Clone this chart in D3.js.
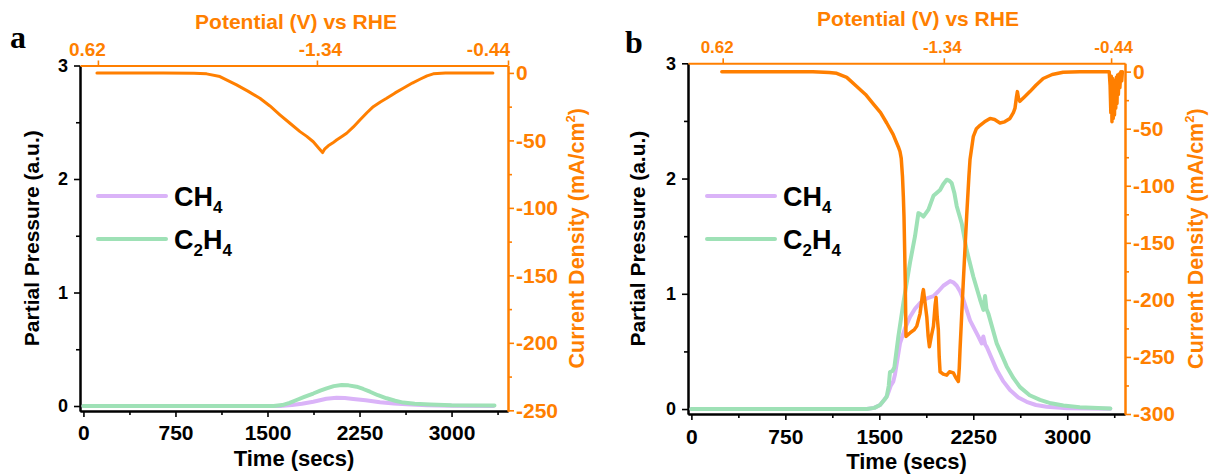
<!DOCTYPE html>
<html><head><meta charset="utf-8">
<script src="https://cdn.jsdelivr.net/npm/d3@7"></script>
<style>
body{margin:0;background:#fff;}
svg text{font-family:"Liberation Sans",Arial,sans-serif;font-weight:bold;}
</style></head><body>
<svg id="chart" width="1214" height="475"></svg>
<script>
// ---------- data ----------
const timeTicks=[0,750,1500,2250,3000];
const timeMinorTicks=[375,1125,1875,2625,3375];
const pressureTicks=[0,1,2,3];
const pressureMinorTicks=[0.5,1.5,2.5];
const currentTicksA=[0,-50,-100,-150,-200,-250];
const currentMinorA=[-25,-75,-125,-175,-225];
const currentTicksB=[0,-50,-100,-150,-200,-250,-300];
const currentMinorB=[-25,-75,-125,-175,-225,-275];
const potentialLabels=["0.62","-1.34","-0.44"];
const potentialTimesA=[118,1903,3460];
const potentialTimesB=[250,2015,3350];
const seriesNames=["CH4","C2H4"];
const panelLetters=["a","b"];

// panel a: [time (s), value]
const currentA=[[110,0],[650,0],[900,-0.3],[1004,-0.7],[1112,-2.7],[1248,-8.9],[1340,-13.5],[1438,-18.8],[1520,-24.5],[1601,-31],[1683,-37.3],[1765,-43.5],[1820,-47],[1873,-51],[1920,-56],[1949,-59],[1965,-56.5],[1995,-54],[2030,-52],[2063,-49.7],[2100,-47.5],[2145,-44.7],[2200,-40],[2253,-34.9],[2310,-29.5],[2362,-25],[2420,-21.5],[2471,-18.8],[2540,-14.8],[2606,-11.4],[2680,-7.5],[2742,-4.7],[2800,-2.2],[2851,-0.7],[2950,0],[3337,0]];
const ch4A=[[0,0],[1600,0],[1700,0.008],[1780,0.02],[1873,0.038],[1980,0.064],[2063,0.073],[2130,0.07],[2199,0.062],[2300,0.05],[2417,0.033],[2530,0.022],[2634,0.015],[2800,0.006],[3000,0.002],[3340,0]];
const c2h4A=[[0,0],[1550,0],[1620,0.008],[1680,0.028],[1737,0.053],[1800,0.08],[1873,0.11],[1930,0.135],[1982,0.155],[2040,0.175],[2104,0.185],[2160,0.182],[2226,0.17],[2280,0.15],[2335,0.126],[2400,0.095],[2471,0.068],[2540,0.046],[2606,0.03],[2700,0.02],[2824,0.013],[3000,0.007],[3350,0.004]];

// panel b
const currentB=[[243,0],[970,0],[1100,-0.8],[1160,-1.5],[1240,-5],[1320,-13],[1390,-20],[1450,-28],[1510,-36],[1559,-45],[1610,-55],[1652,-66],[1665,-70],[1675,-76],[1685,-92],[1692,-110],[1697,-127],[1703,-160],[1707,-185],[1713,-232],[1745,-229],[1780,-226],[1799,-223],[1825,-212],[1845,-195],[1852,-191],[1862,-200],[1879,-215],[1890,-232],[1900,-241],[1915,-232],[1932,-223],[1945,-205],[1953,-198],[1962,-215],[1971,-226],[1978,-250],[1985,-263],[2010,-265],[2038,-266],[2060,-263],[2091,-264],[2110,-268],[2131,-271.5],[2138,-260],[2144,-244],[2170,-185],[2197,-127],[2215,-92],[2224,-77],[2250,-57],[2275,-50],[2304,-47],[2340,-44],[2384,-41],[2420,-42],[2463,-45],[2500,-44],[2543,-41],[2570,-36],[2583,-32],[2595,-22],[2602,-17.5],[2612,-24],[2622,-26],[2660,-22],[2702,-17.5],[2750,-12],[2808,-6],[2880,-2.5],[2967,-0.5],[3100,0],[3335,0],[3342,-12],[3348,-36],[3352,-4],[3357,-44],[3362,-6],[3367,-41],[3372,-10],[3377,-38],[3382,-8],[3387,-32],[3392,-5],[3397,-28],[3402,-3],[3408,-20],[3414,-2],[3420,-14],[3428,0],[3435,-8],[3440,0]];
const ch4B=[[0,0],[1400,0],[1460,0.01],[1506,0.035],[1540,0.08],[1565,0.12],[1590,0.2],[1612,0.24],[1625,0.3],[1665,0.57],[1705,0.7],[1745,0.8],[1785,0.87],[1825,0.92],[1880,0.96],[1932,0.98],[1970,1.02],[2011,1.07],[2065,1.11],[2090,1.1],[2118,1.07],[2145,1.02],[2171,0.95],[2224,0.77],[2290,0.63],[2317,0.57],[2330,0.63],[2345,0.56],[2357,0.54],[2437,0.34],[2490,0.24],[2543,0.165],[2610,0.1],[2676,0.063],[2750,0.035],[2835,0.02],[3000,0.007],[3344,0.002]];
const c2h4B=[[0,0],[1400,0],[1460,0.01],[1506,0.035],[1540,0.08],[1559,0.107],[1575,0.2],[1585,0.32],[1605,0.33],[1620,0.36],[1652,0.63],[1692,0.92],[1745,1.27],[1785,1.5],[1812,1.7],[1830,1.69],[1852,1.67],[1872,1.7],[1892,1.73],[1932,1.85],[1985,1.9],[2010,1.95],[2038,1.99],[2060,1.98],[2078,1.96],[2100,1.87],[2118,1.76],[2158,1.61],[2197,1.38],[2250,1.15],[2304,0.95],[2331,0.86],[2344,0.98],[2355,0.87],[2370,0.83],[2437,0.57],[2517,0.37],[2570,0.27],[2623,0.19],[2700,0.12],[2783,0.08],[2870,0.05],[2969,0.03],[3100,0.015],[3344,0.005]];

// ---------- drawing ----------
const ORANGE="#FF7F00", PURPLE="#DAB3F8", GREEN="#9EE1B6", BLACK="#000";
const svg=d3.select("#chart");
const plain=d=>String(d);

function styleAxis(sel,color,fs,w){
  sel.select(".domain").attr("stroke",color).attr("stroke-width",w||2);
  sel.selectAll(".tick line").attr("stroke",color).attr("stroke-width",1.6);
  sel.selectAll(".tick text").attr("fill",color).style("font-size",fs+"px").style("font-family","'Liberation Sans',Arial,sans-serif").style("font-weight","bold");
}

function formula(textSel,str,fs,sub){
  let prevSub=false;
  for(const ch of str){
    const isSub=/[0-9]/.test(ch);
    const t=textSel.append("tspan").text(ch);
    if(isSub){t.style("font-size",sub+"px"); if(!prevSub) t.attr("dy",7);}
    else{t.style("font-size",fs+"px"); if(prevSub) t.attr("dy",-7);}
    prevSub=isSub;
  }
}

function panel(p){
  const g=svg.append("g");
  const x=d3.scaleLinear().domain(p.xDom).range([p.L,p.R]);
  const yL=d3.scaleLinear().domain(p.yDom).range([p.B,p.T]);
  const yR=d3.scaleLinear().domain(p.cDom).range([p.B,p.T]);
  const lineL=d3.line().x(d=>x(d[0])).y(d=>yL(d[1]));
  const lineR=d3.line().x(d=>x(d[0])).y(d=>yR(d[1]));

  const bottom=g.append("g").attr("transform",`translate(0,${p.B})`)
    .call(d3.axisBottom(x).tickValues(timeTicks).tickSize(6).tickSizeOuter(0).tickPadding(p.bPad).tickFormat(plain));
  styleAxis(bottom,BLACK,21);
  const bottomMinor=g.append("g").attr("transform",`translate(0,${p.B})`)
    .call(d3.axisBottom(x).tickValues(timeMinorTicks).tickSize(4).tickSizeOuter(0).tickFormat(""));
  styleAxis(bottomMinor,BLACK,21);

  const left=g.append("g").attr("transform",`translate(${p.L},0)`)
    .call(d3.axisLeft(yL).tickValues(pressureTicks).tickSize(6).tickSizeOuter(0).tickPadding(6).tickFormat(plain));
  styleAxis(left,BLACK,18);
  const leftMinor=g.append("g").attr("transform",`translate(${p.L},0)`)
    .call(d3.axisLeft(yL).tickValues(pressureMinorTicks).tickSize(4).tickSizeOuter(0).tickFormat(""));
  styleAxis(leftMinor,BLACK,18);

  const right=g.append("g").attr("transform",`translate(${p.R},0)`)
    .call(d3.axisRight(yR).tickValues(p.cTicks).tickSize(6).tickSizeOuter(0).tickPadding(2).tickFormat(plain));
  styleAxis(right,ORANGE,21);
  const rightMinor=g.append("g").attr("transform",`translate(${p.R},0)`)
    .call(d3.axisRight(yR).tickValues(p.cMinor).tickSize(4).tickSizeOuter(0).tickFormat(""));
  styleAxis(rightMinor,ORANGE,21);

  const top=g.append("g").attr("transform",`translate(0,${p.T})`)
    .call(d3.axisTop(x).tickValues(p.potTimes).tickSize(5).tickSizeOuter(0).tickPadding(p.tPad).tickFormat((d,i)=>potentialLabels[i]));
  styleAxis(top,ORANGE,p.topFs);
  top.selectAll(".tick text").attr("dx",(d,i)=>p.topDx[i]);

  g.append("path").datum(p.ch4).attr("d",lineL).attr("fill","none").attr("stroke",PURPLE).attr("stroke-width",4).attr("stroke-linejoin","round").attr("stroke-linecap","round");
  g.append("path").datum(p.c2h4).attr("d",lineL).attr("fill","none").attr("stroke",GREEN).attr("stroke-width",4).attr("stroke-linejoin","round").attr("stroke-linecap","round");
  g.append("path").datum(p.current).attr("d",lineR).attr("fill","none").attr("stroke",ORANGE).attr("stroke-width",p.oW).attr("stroke-linejoin","round").attr("stroke-linecap","round");

  g.append("text").attr("x",(p.L+p.R)/2).attr("y",p.timeY).attr("text-anchor","middle").style("font-size","22px").attr("fill",BLACK).text("Time (secs)");
  g.append("text").attr("transform",`translate(${p.ppX},${(p.T+p.B)/2}) rotate(-90)`).attr("text-anchor","middle").style("font-size","21px").attr("fill",BLACK).text("Partial Pressure (a.u.)");
  const cd=g.append("text").attr("transform",`translate(${p.cdX},${(p.T+p.B)/2}) rotate(-90)`).attr("text-anchor","middle").style("font-size","21.5px").attr("fill",ORANGE);
  cd.append("tspan").text("Current Density (mA/cm");
  cd.append("tspan").text("2").style("font-size","13px").attr("dy",-9);
  cd.append("tspan").text(")").attr("dy",9);
  g.append("text").attr("x",p.potX).attr("y",p.potY).attr("text-anchor","middle").style("font-size","21px").attr("fill",ORANGE).text("Potential (V) vs RHE");

  g.append("text").attr("x",p.letX).attr("y",p.letY).style("font-family","'Liberation Serif','Times New Roman',serif").style("font-size","32px").style("font-weight","bold").text(p.letter);

  const colors=[PURPLE,GREEN];
  seriesNames.forEach((nm,i)=>{
    const yy=p.legY+i*43;
    g.append("line").attr("x1",p.legX).attr("x2",p.legX+68).attr("y1",yy).attr("y2",yy).attr("stroke",colors[i]).attr("stroke-width",4).attr("stroke-linecap","round");
    const t=g.append("text").attr("x",p.legX+76).attr("y",yy+9.5).attr("fill",BLACK);
    formula(t,nm,27,17);
  });
}

panel({L:80,R:508,T:65.5,B:411,xDom:[-28,3460],yDom:[-0.044,3.0],cDom:[-250.5,5.5],
  cTicks:currentTicksA,cMinor:currentMinorA,potTimes:potentialTimesA,topDx:[-11,3,-20],topFs:19,
  bPad:8,tPad:5,oW:3,timeY:466,ppX:39,cdX:584,potX:296,potY:28.5,letX:10,letY:48,letter:panelLetters[0],
  legX:98,legY:196,ch4:ch4A,c2h4:c2h4A,current:currentA});
panel({L:688,R:1125,T:63.3,B:414,xDom:[-27,3461],yDom:[-0.043,3.0],cDom:[-300,7.3],
  cTicks:currentTicksB,cMinor:currentMinorB,potTimes:potentialTimesB,topDx:[-6,-2,2],topFs:17,
  bPad:9,tPad:5.5,oW:3.5,timeY:469,ppX:645,cdX:1203,potX:918,potY:26,letX:625,letY:53,letter:panelLetters[1],
  legX:707,legY:196,ch4:ch4B,c2h4:c2h4B,current:currentB});
</script>
</body></html>
